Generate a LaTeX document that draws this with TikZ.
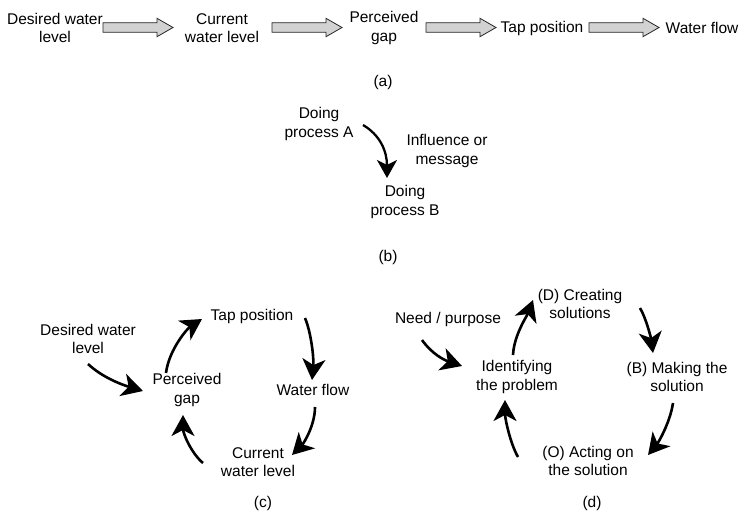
\documentclass[tikz,border=0pt]{standalone}
\usepackage{fontspec}
\setmainfont{Liberation Sans}
\usetikzlibrary{arrows.meta,calc}
\tikzset{
  lbl/.style={align=center,inner sep=0pt,font=\fontsize{15.5}{18.5}\selectfont},
  curvearrow/.style={line width=2.6pt,-{Stealth[length=21pt,width=23pt,inset=6pt]}},
  smallcurve/.style={line width=2.3pt,-{Stealth[length=18pt,width=20pt,inset=5pt]}},
  blockarrow/.style={draw=black!85,line width=0.8pt,fill=gray!35,line join=miter}
}
\newcommand\blockarr[2]{%
  \draw[blockarrow] ($(#1)+(0,-4.8)$) -- ($(#2)+(-16,-4.8)$) -- ($(#2)+(-16,-9.2)$) -- (#2)
    -- ($(#2)+(-16,9.2)$) -- ($(#2)+(-16,4.8)$) -- ($(#1)+(0,4.8)$) -- cycle;}
\begin{document}
\begin{tikzpicture}[x=1pt,y=-1pt]
\useasboundingbox (0,0) rectangle (744,520);
% ---------- (a)
\node[lbl] (dw) at (55,28) {Desired water\\level};
\node[lbl] (cw) at (222,28) {Current\\water level};
\node[lbl] (pg) at (384,28) {Perceived\\gap};
\node[lbl] (tp) at (542,28) {Tap position};
\node[lbl] (wf) at (702,28) {Water flow};
\node[lbl] (la) at (383,82) {(a)};
\coordinate (a1s) at (103,27.5); \coordinate (a1e) at (173,27.5);
\coordinate (a2s) at (272,27.5); \coordinate (a2e) at (342,27.5);
\coordinate (a3s) at (426,27.5); \coordinate (a3e) at (496,27.5);
\coordinate (a4s) at (589,27.5); \coordinate (a4e) at (659,27.5);
\blockarr{a1s}{a1e}
\blockarr{a2s}{a2e}
\blockarr{a3s}{a3e}
\blockarr{a4s}{a4e}
% ---------- (b)
\node[lbl] (pA) at (319,124) {Doing\\process A};
\node[lbl] (msg) at (447,151) {Influence or\\message};
\node[lbl] (pB) at (405,202) {Doing\\process B};
\node[lbl] (lb) at (388,257) {(b)};
\coordinate (b1s) at (363,125); \coordinate (b1e) at (387,178);
\draw[smallcurve] (b1s) .. controls +(17,10) and +(0,-27) .. (b1e);
% ---------- (c)
\node[lbl] (cdw) at (88,339) {Desired water\\level};
\node[lbl] (cpg) at (187,390) {Perceived\\gap};
\node[lbl] (ctp) at (252,316) {Tap position};
\node[lbl] (cwf) at (313,390) {Water flow};
\node[lbl] (ccw) at (258,462) {Current\\water level};
\node[lbl] (lc) at (263,503) {(c)};
\coordinate (c1s) at (88,364);  \coordinate (c1e) at (143,391);
\coordinate (c2s) at (166,373); \coordinate (c2e) at (202,319);
\coordinate (c3s) at (305,318); \coordinate (c3e) at (312,380);
\coordinate (c4s) at (315,407); \coordinate (c4e) at (292,455);
\coordinate (c5s) at (203,463); \coordinate (c5e) at (183,415);
\draw[curvearrow] (c1s) .. controls +(15,14) and +(-20,-6) .. (c1e);
\draw[curvearrow] (c2s) .. controls +(3,-24) and +(-14,9) .. (c2e);
\draw[curvearrow] (c3s) .. controls +(6,14) and +(2,-22) .. (c3e);
\draw[curvearrow] (c4s) .. controls +(0,18) and +(12,-12) .. (c4e);
\draw[curvearrow] (c5s) .. controls +(-12,-10) and +(0,18) .. (c5e);
% ---------- (d)
\node[lbl] (dD) at (580,304) {(D) Creating\\solutions};
\node[lbl] (dneed) at (448,319) {Need / purpose};
\node[lbl] (did) at (517,377) {Identifying\\the problem};
\node[lbl] (dB) at (677,377) {(B) Making the\\solution};
\node[lbl] (dO) at (588,461) {(O) Acting on\\the solution};
\node[lbl] (ld) at (592,503) {(d)};
\coordinate (d1s) at (422,340); \coordinate (d1e) at (462,366);
\coordinate (d2s) at (513,355); \coordinate (d2e) at (533,300);
\coordinate (d3s) at (640,308); \coordinate (d3e) at (653,353);
\coordinate (d4s) at (673,403); \coordinate (d4e) at (648,455);
\coordinate (d5s) at (518,457); \coordinate (d5e) at (505,400);
\draw[curvearrow] (d1s) .. controls +(10,14) and +(-18,-6) .. (d1e);
\draw[curvearrow] (d2s) .. controls +(1,-20) and +(-6,16) .. (d2e);
\draw[curvearrow] (d3s) .. controls +(6,10) and +(-2,-15) .. (d3e);
\draw[curvearrow] (d4s) .. controls +(-3,20) and +(10,-12) .. (d4e);
\draw[curvearrow] (d5s) .. controls +(-8,-14) and +(0,18) .. (d5e);
\end{tikzpicture}
\end{document}
